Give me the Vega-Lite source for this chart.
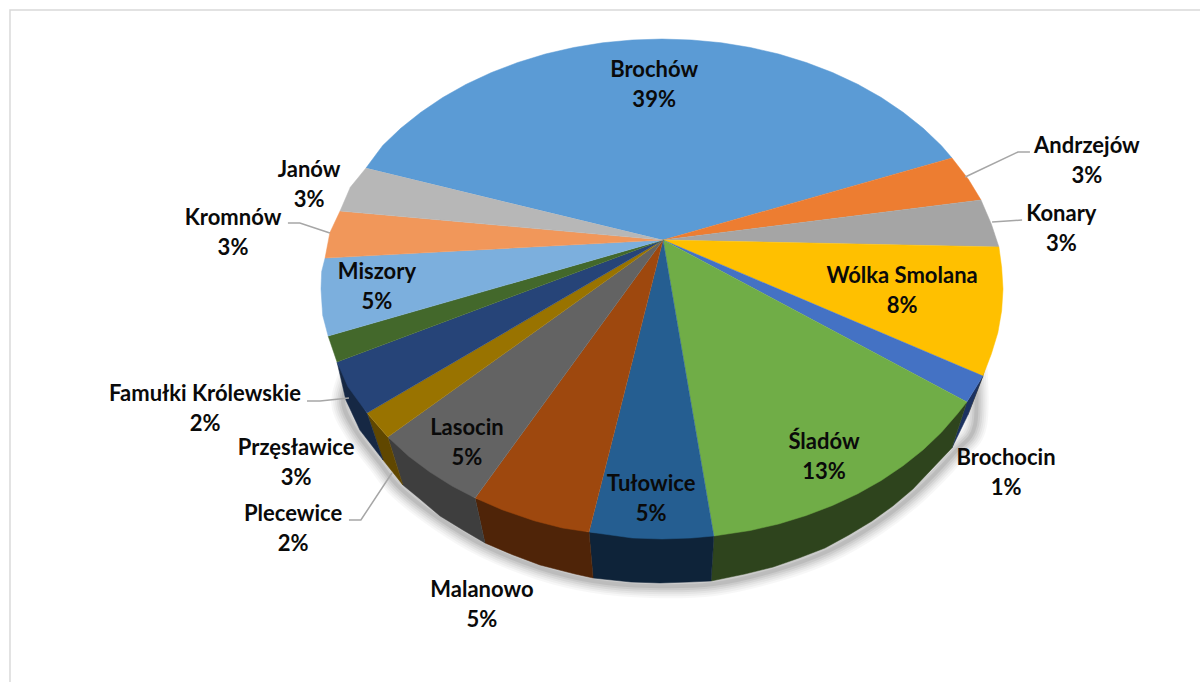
{"$schema":"https://vega.github.io/schema/vega-lite/v6.json","width":1200,"height":682,"padding":0,"autosize":{"type":"none"},"background":"white","view":{"stroke":null},
"config":{"axis":{"grid":false}},
"datasets":{
"frame":[{"i":0,"u":-1.912,"v":-1.572},{"i":1,"u":-1.912,"v":1.116},{"i":2,"u":1.578,"v":1.116}],
"shadow":[{"i":0,"u":0.918,"v":-0.284},{"i":1,"u":0.918,"v":-0.544},{"i":2,"u":0.859,"v":-0.652},{"i":3,"u":0.745,"v":-0.812},{"i":4,"u":0.625,"v":-0.94},{"i":5,"u":0.487,"v":-1.048},{"i":6,"u":0.334,"v":-1.124},{"i":7,"u":0.152,"v":-1.18},{"i":8,"u":-0.035,"v":-1.188},{"i":9,"u":-0.202,"v":-1.168},{"i":10,"u":-0.358,"v":-1.116},{"i":11,"u":-0.519,"v":-1.028},{"i":12,"u":-0.651,"v":-0.92},{"i":13,"u":-0.768,"v":-0.796},{"i":14,"u":-0.827,"v":-0.696},{"i":15,"u":-0.894,"v":-0.576},{"i":16,"u":-0.935,"v":-0.456},{"i":17,"u":-0.909,"v":-0.332}],
"side":[
{"slice":"Wólka Smolana bok","i":0,"u":0.947,"v":-0.316},{"slice":"Wólka Smolana bok","i":1,"u":0.941,"v":-0.348},{"slice":"Wólka Smolana bok","i":2,"u":0.897,"v":-0.504},
{"slice":"Brochocin bok","i":0,"u":0.941,"v":-0.348},{"slice":"Brochocin bok","i":1,"u":0.897,"v":-0.504},{"slice":"Brochocin bok","i":2,"u":0.85,"v":-0.636},{"slice":"Brochocin bok","i":3,"u":0.894,"v":-0.452},
{"slice":"Śladów bok","i":0,"u":0.894,"v":-0.452},{"slice":"Śladów bok","i":1,"u":0.85,"v":-0.636},{"slice":"Śladów bok","i":2,"u":0.786,"v":-0.728},{"slice":"Śladów bok","i":3,"u":0.736,"v":-0.8},{"slice":"Śladów bok","i":4,"u":0.677,"v":-0.868},{"slice":"Śladów bok","i":5,"u":0.616,"v":-0.928},{"slice":"Śladów bok","i":6,"u":0.548,"v":-0.984},{"slice":"Śladów bok","i":7,"u":0.478,"v":-1.036},{"slice":"Śladów bok","i":8,"u":0.402,"v":-1.076},{"slice":"Śladów bok","i":9,"u":0.326,"v":-1.112},{"slice":"Śladów bok","i":10,"u":0.243,"v":-1.14},{"slice":"Śladów bok","i":11,"u":0.144,"v":-1.168},{"slice":"Śladów bok","i":12,"u":0.152,"v":-0.988},
{"slice":"Tułowice bok","i":0,"u":0.152,"v":-0.988},{"slice":"Tułowice bok","i":1,"u":0.144,"v":-1.168},{"slice":"Tułowice bok","i":2,"u":0.079,"v":-1.172},{"slice":"Tułowice bok","i":3,"u":-0.006,"v":-1.176},{"slice":"Tułowice bok","i":4,"u":-0.091,"v":-1.172},{"slice":"Tułowice bok","i":5,"u":-0.202,"v":-1.156},{"slice":"Tułowice bok","i":6,"u":-0.214,"v":-0.972},
{"slice":"Malanowo bok","i":0,"u":-0.214,"v":-0.972},{"slice":"Malanowo bok","i":1,"u":-0.202,"v":-1.156},{"slice":"Malanowo bok","i":2,"u":-0.255,"v":-1.14},{"slice":"Malanowo bok","i":3,"u":-0.358,"v":-1.104},{"slice":"Malanowo bok","i":4,"u":-0.44,"v":-1.062},{"slice":"Malanowo bok","i":5,"u":-0.519,"v":-1.016},{"slice":"Malanowo bok","i":6,"u":-0.548,"v":-0.836},
{"slice":"Lasocin bok","i":0,"u":-0.548,"v":-0.836},{"slice":"Lasocin bok","i":1,"u":-0.519,"v":-1.016},{"slice":"Lasocin bok","i":2,"u":-0.584,"v":-0.964},{"slice":"Lasocin bok","i":3,"u":-0.651,"v":-0.908},{"slice":"Lasocin bok","i":4,"u":-0.71,"v":-0.84},{"slice":"Lasocin bok","i":5,"u":-0.76,"v":-0.784},{"slice":"Lasocin bok","i":6,"u":-0.804,"v":-0.592},
{"slice":"Plecewice bok","i":0,"u":-0.804,"v":-0.592},{"slice":"Plecewice bok","i":1,"u":-0.76,"v":-0.784},{"slice":"Plecewice bok","i":2,"u":-0.818,"v":-0.684},{"slice":"Plecewice bok","i":3,"u":-0.865,"v":-0.496},
{"slice":"Przęsławice bok","i":0,"u":-0.865,"v":-0.496},{"slice":"Przęsławice bok","i":1,"u":-0.818,"v":-0.684},{"slice":"Przęsławice bok","i":2,"u":-0.886,"v":-0.564},{"slice":"Przęsławice bok","i":3,"u":-0.927,"v":-0.444},{"slice":"Przęsławice bok","i":4,"u":-0.953,"v":-0.292}
],
"top":[
{"slice":"Brochów","i":0,"u":0.003,"v":0.196},{"slice":"Brochów","i":1,"u":-0.868,"v":0.484},{"slice":"Brochów","i":2,"u":-0.819,"v":0.574},{"slice":"Brochów","i":3,"u":-0.766,"v":0.643},{"slice":"Brochów","i":4,"u":-0.707,"v":0.707},{"slice":"Brochów","i":5,"u":-0.643,"v":0.766},{"slice":"Brochów","i":6,"u":-0.574,"v":0.819},{"slice":"Brochów","i":7,"u":-0.5,"v":0.866},{"slice":"Brochów","i":8,"u":-0.423,"v":0.906},{"slice":"Brochów","i":9,"u":-0.342,"v":0.94},{"slice":"Brochów","i":10,"u":-0.259,"v":0.966},{"slice":"Brochów","i":11,"u":-0.174,"v":0.985},{"slice":"Brochów","i":12,"u":-0.087,"v":0.996},{"slice":"Brochów","i":13,"u":0,"v":1},{"slice":"Brochów","i":14,"u":0.087,"v":0.996},{"slice":"Brochów","i":15,"u":0.174,"v":0.985},{"slice":"Brochów","i":16,"u":0.259,"v":0.966},{"slice":"Brochów","i":17,"u":0.342,"v":0.94},{"slice":"Brochów","i":18,"u":0.423,"v":0.906},{"slice":"Brochów","i":19,"u":0.5,"v":0.866},{"slice":"Brochów","i":20,"u":0.574,"v":0.819},{"slice":"Brochów","i":21,"u":0.643,"v":0.766},{"slice":"Brochów","i":22,"u":0.707,"v":0.707},{"slice":"Brochów","i":23,"u":0.766,"v":0.643},{"slice":"Brochów","i":24,"u":0.819,"v":0.574},{"slice":"Brochów","i":25,"u":0.8504,"v":0.524},
{"slice":"Andrzejów","i":0,"u":0.003,"v":0.196},{"slice":"Andrzejów","i":1,"u":0.8504,"v":0.524},{"slice":"Andrzejów","i":2,"u":0.899,"v":0.438},{"slice":"Andrzejów","i":3,"u":0.9355,"v":0.356},
{"slice":"Konary","i":0,"u":0.003,"v":0.196},{"slice":"Konary","i":1,"u":0.9355,"v":0.356},{"slice":"Konary","i":2,"u":0.966,"v":0.259},{"slice":"Konary","i":3,"u":0.988,"v":0.168},
{"slice":"Wólka Smolana","i":0,"u":0.003,"v":0.196},{"slice":"Wólka Smolana","i":1,"u":0.988,"v":0.168},{"slice":"Wólka Smolana","i":2,"u":0.996,"v":0.087},{"slice":"Wólka Smolana","i":3,"u":1,"v":0},{"slice":"Wólka Smolana","i":4,"u":0.996,"v":-0.087},{"slice":"Wólka Smolana","i":5,"u":0.985,"v":-0.174},{"slice":"Wólka Smolana","i":6,"u":0.966,"v":-0.259},{"slice":"Wólka Smolana","i":7,"u":0.941,"v":-0.348},
{"slice":"Brochocin","i":0,"u":0.003,"v":0.196},{"slice":"Brochocin","i":1,"u":0.941,"v":-0.348},{"slice":"Brochocin","i":2,"u":0.894,"v":-0.452},
{"slice":"Śladów","i":0,"u":0.003,"v":0.196},{"slice":"Śladów","i":1,"u":0.894,"v":-0.452},{"slice":"Śladów","i":2,"u":0.866,"v":-0.5},{"slice":"Śladów","i":3,"u":0.819,"v":-0.574},{"slice":"Śladów","i":4,"u":0.766,"v":-0.643},{"slice":"Śladów","i":5,"u":0.707,"v":-0.707},{"slice":"Śladów","i":6,"u":0.643,"v":-0.766},{"slice":"Śladów","i":7,"u":0.574,"v":-0.819},{"slice":"Śladów","i":8,"u":0.5,"v":-0.866},{"slice":"Śladów","i":9,"u":0.423,"v":-0.906},{"slice":"Śladów","i":10,"u":0.342,"v":-0.94},{"slice":"Śladów","i":11,"u":0.259,"v":-0.966},{"slice":"Śladów","i":12,"u":0.152,"v":-0.988},
{"slice":"Tułowice","i":0,"u":0.003,"v":0.196},{"slice":"Tułowice","i":1,"u":0.152,"v":-0.988},{"slice":"Tułowice","i":2,"u":0.087,"v":-0.996},{"slice":"Tułowice","i":3,"u":0,"v":-1},{"slice":"Tułowice","i":4,"u":-0.087,"v":-0.996},{"slice":"Tułowice","i":5,"u":-0.214,"v":-0.972},
{"slice":"Malanowo","i":0,"u":0.003,"v":0.196},{"slice":"Malanowo","i":1,"u":-0.214,"v":-0.972},{"slice":"Malanowo","i":2,"u":-0.292,"v":-0.956},{"slice":"Malanowo","i":3,"u":-0.375,"v":-0.927},{"slice":"Malanowo","i":4,"u":-0.469,"v":-0.883},{"slice":"Malanowo","i":5,"u":-0.548,"v":-0.836},
{"slice":"Lasocin","i":0,"u":0.003,"v":0.196},{"slice":"Lasocin","i":1,"u":-0.548,"v":-0.836},{"slice":"Lasocin","i":2,"u":-0.616,"v":-0.788},{"slice":"Lasocin","i":3,"u":-0.682,"v":-0.731},{"slice":"Lasocin","i":4,"u":-0.743,"v":-0.669},{"slice":"Lasocin","i":5,"u":-0.804,"v":-0.592},
{"slice":"Plecewice","i":0,"u":0.003,"v":0.196},{"slice":"Plecewice","i":1,"u":-0.804,"v":-0.592},{"slice":"Plecewice","i":2,"u":-0.865,"v":-0.496},
{"slice":"Przęsławice","i":0,"u":0.003,"v":0.196},{"slice":"Przęsławice","i":1,"u":-0.865,"v":-0.496},{"slice":"Przęsławice","i":2,"u":-0.921,"v":-0.391},{"slice":"Przęsławice","i":3,"u":-0.953,"v":-0.292},
{"slice":"Famułki Królewskie","i":0,"u":0.003,"v":0.196},{"slice":"Famułki Królewskie","i":1,"u":-0.953,"v":-0.292},{"slice":"Famułki Królewskie","i":2,"u":-0.979,"v":-0.188},
{"slice":"Miszory","i":0,"u":0.003,"v":0.196},{"slice":"Miszory","i":1,"u":-0.979,"v":-0.188},{"slice":"Miszory","i":2,"u":-0.995,"v":-0.105},{"slice":"Miszory","i":3,"u":-1,"v":0},{"slice":"Miszory","i":4,"u":-0.998,"v":0.07},{"slice":"Miszory","i":5,"u":-0.988,"v":0.124},
{"slice":"Kromnów","i":0,"u":0.003,"v":0.196},{"slice":"Kromnów","i":1,"u":-0.988,"v":0.124},{"slice":"Kromnów","i":2,"u":-0.974,"v":0.225},{"slice":"Kromnów","i":3,"u":-0.944,"v":0.312},
{"slice":"Janów","i":0,"u":0.003,"v":0.196},{"slice":"Janów","i":1,"u":-0.944,"v":0.312},{"slice":"Janów","i":2,"u":-0.914,"v":0.407},{"slice":"Janów","i":3,"u":-0.868,"v":0.484}
],
"leaders":[
{"slice":"Andrzejów","i":0,"u":0.889,"v":0.448},{"slice":"Andrzejów","i":1,"u":1.044,"v":0.548},{"slice":"Andrzejów","i":2,"u":1.079,"v":0.548},
{"slice":"Konary","i":0,"u":0.968,"v":0.268},{"slice":"Konary","i":1,"u":1.012,"v":0.272},{"slice":"Konary","i":2,"u":1.056,"v":0.276},
{"slice":"Kromnów","i":0,"u":-1.097,"v":0.264},{"slice":"Kromnów","i":1,"u":-1.062,"v":0.264},{"slice":"Kromnów","i":2,"u":-0.974,"v":0.224},
{"slice":"Famułki Królewskie","i":0,"u":-1.041,"v":-0.448},{"slice":"Famułki Królewskie","i":1,"u":-1.003,"v":-0.448},{"slice":"Famułki Królewskie","i":2,"u":-0.918,"v":-0.436},
{"slice":"Plecewice","i":0,"u":-0.918,"v":-0.924},{"slice":"Plecewice","i":1,"u":-0.883,"v":-0.924},{"slice":"Plecewice","i":2,"u":-0.792,"v":-0.736}
],
"labels":[
{"label":"Brochów\n39%","u":-0.023,"v":0.816},{"label":"Andrzejów\n3%","u":1.246,"v":0.512},{"label":"Konary\n3%","u":1.171,"v":0.24},{"label":"Wólka Smolana\n8%","u":0.704,"v":-0.008},{"label":"Brochocin\n1%","u":1.009,"v":-0.736},{"label":"Śladów\n13%","u":0.475,"v":-0.672},{"label":"Tułowice\n5%","u":-0.032,"v":-0.84},{"label":"Malanowo\n5%","u":-0.528,"v":-1.264},{"label":"Lasocin\n5%","u":-0.572,"v":-0.616},{"label":"Plecewice\n2%","u":-1.082,"v":-0.96},{"label":"Przęsławice\n3%","u":-1.073,"v":-0.696},{"label":"Famułki Królewskie\n2%","u":-1.34,"v":-0.48},{"label":"Miszory\n5%","u":-0.836,"v":0.008},{"label":"Kromnów\n3%","u":-1.258,"v":0.224},{"label":"Janów\n3%","u":-1.035,"v":0.416}
]
},
"encoding":{
"x":{"field":"u","type":"quantitative","axis":null,"scale":{"domain":[-1.9413,1.5777],"nice":false,"zero":false}},
"y":{"field":"v","type":"quantitative","axis":null,"scale":{"domain":[-1.572,1.156],"nice":false,"zero":false}}
},
"layer":[
{"data":{"name":"frame"},"mark":{"type":"line","stroke":"#d9d9d9","strokeWidth":1.5},"encoding":{"order":{"field":"i"}}},
{"data":{"name":"shadow"},"mark":{"type":"line","interpolate":"cardinal","stroke":"#000000","strokeOpacity":0.03,"strokeWidth":24},"encoding":{"order":{"field":"i"}}},
{"data":{"name":"shadow"},"mark":{"type":"line","interpolate":"cardinal","stroke":"#000000","strokeOpacity":0.035,"strokeWidth":20},"encoding":{"order":{"field":"i"}}},
{"data":{"name":"shadow"},"mark":{"type":"line","interpolate":"cardinal","stroke":"#000000","strokeOpacity":0.04,"strokeWidth":16},"encoding":{"order":{"field":"i"}}},
{"data":{"name":"shadow"},"mark":{"type":"line","interpolate":"cardinal","stroke":"#000000","strokeOpacity":0.05,"strokeWidth":12},"encoding":{"order":{"field":"i"}}},
{"data":{"name":"shadow"},"mark":{"type":"line","interpolate":"cardinal","stroke":"#000000","strokeOpacity":0.06,"strokeWidth":8},"encoding":{"order":{"field":"i"}}},
{"data":{"name":"shadow"},"mark":{"type":"line","interpolate":"cardinal","stroke":"#000000","strokeOpacity":0.07,"strokeWidth":4},"encoding":{"order":{"field":"i"}}},
{"data":{"name":"side"},"mark":{"type":"line","strokeWidth":0.5,"strokeJoin":"round"},"encoding":{"order":{"field":"i"},"detail":{"field":"slice"},
"fill":{"field":"slice","legend":null,"scale":{"domain":["Wólka Smolana bok","Brochocin bok","Śladów bok","Tułowice bok","Malanowo bok","Lasocin bok","Plecewice bok","Przęsławice bok"],"range":["#5a4300","#1c3260","#2e441d","#0e2339","#4f2408","#3e3e3e","#604700","#162844"]}},
"stroke":{"field":"slice","legend":null,"scale":{"domain":["Wólka Smolana bok","Brochocin bok","Śladów bok","Tułowice bok","Malanowo bok","Lasocin bok","Plecewice bok","Przęsławice bok"],"range":["#5a4300","#1c3260","#2e441d","#0e2339","#4f2408","#3e3e3e","#604700","#162844"]}}}},
{"data":{"name":"top"},"mark":{"type":"line","strokeWidth":0.5,"strokeJoin":"round"},"encoding":{"order":{"field":"i"},"detail":{"field":"slice"},
"fill":{"field":"slice","legend":null,"scale":{"domain":["Brochów","Andrzejów","Konary","Wólka Smolana","Brochocin","Śladów","Tułowice","Malanowo","Lasocin","Plecewice","Przęsławice","Famułki Królewskie","Miszory","Kromnów","Janów"],"range":["#5b9bd5","#ed7d31","#a5a5a5","#ffc000","#4472c4","#70ad47","#255e91","#9e480e","#636363","#997300","#264478","#43682b","#7cafdd","#f1975a","#b7b7b7"]}},
"stroke":{"field":"slice","legend":null,"scale":{"domain":["Brochów","Andrzejów","Konary","Wólka Smolana","Brochocin","Śladów","Tułowice","Malanowo","Lasocin","Plecewice","Przęsławice","Famułki Królewskie","Miszory","Kromnów","Janów"],"range":["#5b9bd5","#ed7d31","#a5a5a5","#ffc000","#4472c4","#70ad47","#255e91","#9e480e","#636363","#997300","#264478","#43682b","#7cafdd","#f1975a","#b7b7b7"]}}}},
{"data":{"name":"leaders"},"mark":{"type":"line","stroke":"#a6a6a6","strokeWidth":1.5},"encoding":{"order":{"field":"i"},"detail":{"field":"slice"}}},
{"data":{"name":"labels"},"mark":{"type":"text","font":"Lato","fontWeight":"bold","fontSize":22,"lineHeight":30,"lineBreak":"\n","align":"center","baseline":"middle","dy":-15,"color":"#0a0a0a"},"encoding":{"text":{"field":"label"}}}
],
"resolve":{"scale":{"fill":"independent","stroke":"independent"}}
}
